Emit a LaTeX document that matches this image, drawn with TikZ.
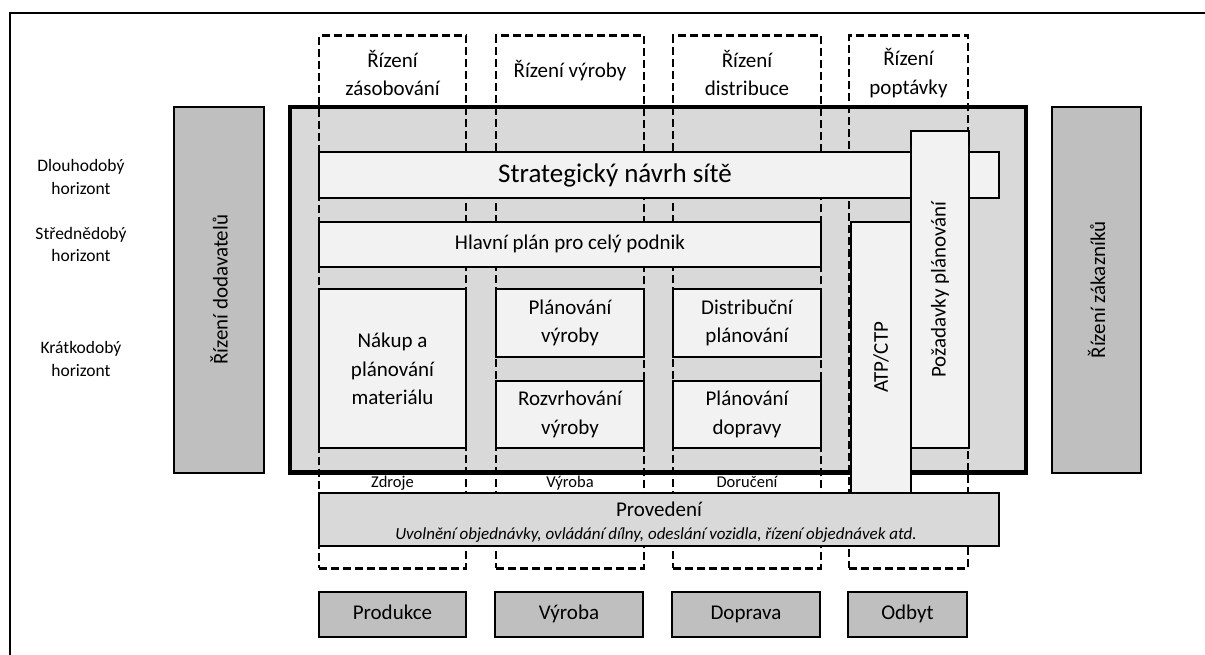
\documentclass[tikz,border=0pt]{standalone}
\usepackage{fontspec}
\setmainfont{Carlito}
\usepackage{tikz}
\usetikzlibrary{positioning}

\definecolor{panelgray}{HTML}{D9D9D9}
\definecolor{barfill}{HTML}{F2F2F2}
\definecolor{sidegray}{HTML}{BFBFBF}

\tikzset{
  box/.style={draw, line width=2pt, fill=barfill, anchor=north west,
    inner sep=0pt, outer sep=0pt, align=center,
    font=\fontsize{21}{28.3}\selectfont},
  sidebox/.style={box, fill=sidegray},
  colbox/.style={draw, line width=2.4pt, dash pattern=on 8pt off 4pt,
    anchor=north west, inner sep=0pt, outer sep=0pt},
  oneline/.style={text height=14.5pt, text depth=4.5pt},
  txt/.style={align=center, font=\fontsize{21}{28.3}\selectfont},
  big/.style={font=\fontsize{27}{32}\selectfont},
  small/.style={font=\fontsize{16.5}{20}\selectfont, text height=12pt, text depth=3.5pt},
  horiz/.style={align=center, font=\fontsize{17.5}{22.5}\selectfont},
}

\begin{document}
\begin{tikzpicture}[x=1pt, y=-1pt]
  \useasboundingbox (0,0) rectangle (1205,655);
  % frame
  \draw[line width=2pt] (1205,12.7) -- (10,12.7) -- (10,655);

  % horizons
  \node[horiz] (dlouho) at (81,177) {Dlouhodobý\\horizont};
  \node[horiz] (stredne) at (81,244.5) {Střednědobý\\horizont};
  \node[horiz] (kratko) at (81,359) {Krátkodobý\\horizont};

  % suppliers, customers
  \node[sidebox, minimum width=90pt, minimum height=365.5pt] (dodav) at (174,107) {};
  \node[txt, rotate=90] (tdodav) at (dodav.center) {Řízení dodavatelů};
  \node[sidebox, minimum width=89pt, minimum height=365.5pt] (zakaz) at (1052,107) {};
  \node[txt, rotate=90] (tzakaz) at (zakaz.center) {Řízení zákazníků};

  % planning panel
  \node[box, fill=panelgray, line width=4.5pt, minimum width=736pt,
    minimum height=365.5pt] (panel) at (290,107) {};

  % columns
  \node[colbox, minimum width=147pt, minimum height=532.6pt] (zasob) at (319,35.7) {};
  \node[colbox, minimum width=148pt, minimum height=532.6pt] (vyroba) at (496,35.7) {};
  \node[colbox, minimum width=148pt, minimum height=532.6pt] (distrib) at (673,35.7) {};
  \node[colbox, minimum width=119pt, minimum height=532.6pt] (poptav) at (849,35.7) {};

  \node[txt] (hzasob) at (392.5,73) {Řízení\\zásobování};
  \node[txt, oneline] (hvyroba) at (570,73) {Řízení výroby};
  \node[txt] (hdistrib) at (747,73) {Řízení\\distribuce};
  \node[txt] (hpoptav) at (908.5,73) {Řízení\\poptávky};

  % bars
  \node[box, minimum width=680pt, minimum height=46pt] (strat) at (319,152.5) {};
  \node[big] (tstrat) at (615,175.5) {Strategický návrh sítě};
  \node[box, oneline, minimum width=502pt, minimum height=45pt] (hlavni) at (319,221.7)
    {Hlavní plán pro celý podnik};

  \node[box, minimum width=147pt, minimum height=159pt] (nakup) at (319,289.3)
    {Nákup a\\plánování\\materiálu};
  \node[box, minimum width=148pt, minimum height=67.4pt] (planvyr) at (496,289.3)
    {Plánování\\výroby};
  \node[box, minimum width=148pt, minimum height=67.4pt, anchor=north,
    below=24pt of planvyr] (rozvrh) {Rozvrhování\\výroby};
  \node[box, minimum width=148pt, minimum height=67.4pt] (distplan) at (673,289.3)
    {Distribuční\\plánování};
  \node[box, minimum width=148pt, minimum height=67.4pt, anchor=north,
    below=24pt of distplan] (doprplan) {Plánování\\dopravy};

  \node[box, minimum width=60pt, minimum height=271.3pt] (atp) at (851,221.7) {};
  \node[txt, rotate=90] (tatp) at (atp.center) {ATP/CTP};
  \node[box, minimum width=58pt, minimum height=317.3pt] (pozad) at (911,131) {};
  \node[txt, rotate=90] (tpozad) at (pozad.center) {Požadavky plánování};

  \node[small] (zdroje) at (392.5,483) {Zdroje};
  \node[small] (lvyroba) at (570,483) {Výroba};
  \node[small] (doruc) at (747,483) {Doručení};

  % execution
  \node[box, fill=panelgray, minimum width=680pt, minimum height=53pt] (proved) at (319,492.5) {};
  \node[txt, oneline] (tproved) at (659,511) {Provedení};
  \node[small, font=\fontsize{17}{20}\selectfont\itshape] (tuvol) at (656,535)
    {Uvolnění objednávky, ovládání dílny, odeslání vozidla, řízení objednávek atd.};

  % bottom row
  \node[sidebox, oneline, minimum width=147pt, minimum height=45.6pt] (produkce) at (319,591.7) {Produkce};
  \node[sidebox, oneline, minimum width=148pt, minimum height=45.6pt, right=29pt of produkce] (bvyroba) {Výroba};
  \node[sidebox, oneline, minimum width=148pt, minimum height=45.6pt, right=29pt of bvyroba] (doprava) {Doprava};
  \node[sidebox, oneline, minimum width=119pt, minimum height=45.6pt, right=28pt of doprava] (odbyt) {Odbyt};
\end{tikzpicture}
\end{document}
